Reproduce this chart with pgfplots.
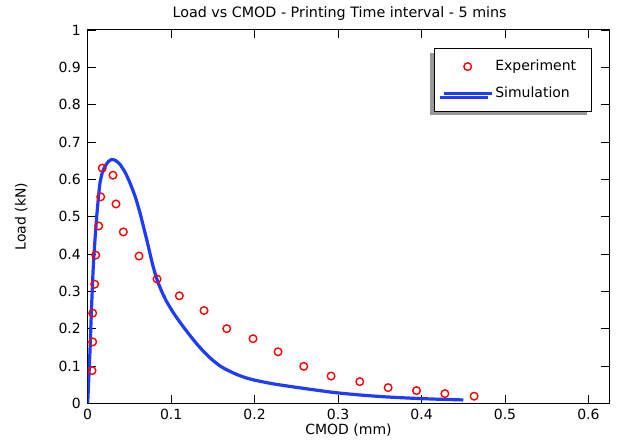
\documentclass[border=0pt]{standalone}
\usepackage{fontspec}
\setmainfont{DejaVu Sans}
\usepackage{pgfplots}
\pgfplotsset{compat=1.18}
\usetikzlibrary{shadows}
\definecolor{simblue}{RGB}{30,60,255}
\pgfplotsset{
  legmark/.style={legend image code/.code={\draw[mark repeat=2,mark phase=2,##1] plot coordinates {(0pt,0pt) (24pt,0pt) (48pt,0pt)};}},
  legline/.style={legend image code/.code={\draw[##1] (0pt,0pt) -- (48pt,0pt);}},
}
\newcommand\fs{\fontsize{14pt}{16pt}\selectfont}
\begin{document}
\fs
\begin{tikzpicture}
\path[use as bounding box] (0pt,0pt) rectangle (618pt,442pt);
\begin{axis}[
  at={(87.7pt,38.7pt)}, anchor=south west,
  width=521.6pt, height=373.3pt, scale only axis,
  xmin=0, xmax=0.625, ymin=0, ymax=1,
  xtick={0,0.1,0.2,0.3,0.4,0.5,0.6},
  ytick={0,0.1,0.2,0.3,0.4,0.5,0.6,0.7,0.8,0.9,1},
  yticklabels={0,0.1,0.2,0.3,0.4,0.5,0.6,0.7,0.8,0.9,1},
  xticklabels={0,0.1,0.2,0.3,0.4,0.5,0.6},
  tick align=inside, major tick length=8pt,
  tick style={black, line width=0.9pt},
  axis line style={black, line width=1pt},
  ticklabel style={font=\fs},
  xticklabel style={yshift=-1pt},
  yticklabel style={xshift=-2pt},
  title={Load vs CMOD - Printing Time interval - 5 mins},
  title style={at={(0.483,1)}, anchor=base, yshift=6pt, font=\fontsize{14.3pt}{16pt}\selectfont},
  xlabel={CMOD (mm)},
  xlabel style={at={(0.5,0)}, anchor=base, yshift=-31pt, font=\fs},
  ylabel={Load (kN)},
  every axis y label/.style={at={(0,0.5)}, rotate=90, anchor=base, yshift=62pt, font=\fs},
  legend style={at={(0.9663,0.951)}, anchor=north east, draw=black, line width=0.9pt, fill=white,
    drop shadow={shadow xshift=-4pt, shadow yshift=-4pt, fill=black!40, opacity=1},
    inner xsep=8pt, inner ysep=9.5pt, row sep=10pt,
    font=\fs},
  legend cell align=left,
  clip=true,
]
\addplot[only marks, mark=o, mark size=3.8pt, color=red, line width=1.4pt, legmark]
  coordinates {
(0.0052,0.0875) (0.0060,0.1645) (0.0060,0.2415) (0.0084,0.319) (0.0096,0.397)
(0.0132,0.475) (0.0156,0.553) (0.0175,0.630) (0.0303,0.611) (0.0339,0.534)
(0.0427,0.459) (0.0615,0.3945) (0.0831,0.333) (0.1098,0.288) (0.1394,0.2485)
(0.1666,0.200) (0.1981,0.173) (0.2281,0.138) (0.2589,0.099) (0.2916,0.073)
(0.3260,0.058) (0.3600,0.042) (0.3940,0.034) (0.4280,0.026) (0.4630,0.019)
};
\addlegendentry{\makebox[86pt][l]{Experiment}}
\addplot[simblue, line width=3.2pt, smooth, tension=0.4, legline]
  coordinates {
(0,0) (0.001,0.05) (0.0028,0.143) (0.0045,0.25) (0.0067,0.367) (0.0088,0.44)
(0.0108,0.50) (0.0128,0.55) (0.0147,0.59) (0.0175,0.618) (0.0207,0.635)
(0.025,0.648) (0.0288,0.653) (0.033,0.651) (0.0387,0.64) (0.045,0.618)
(0.0507,0.59) (0.057,0.553) (0.0627,0.51) (0.0665,0.476) (0.070,0.445)
(0.0727,0.42) (0.0755,0.393) (0.078,0.370) (0.0805,0.350) (0.083,0.332)
(0.086,0.314) (0.089,0.298) (0.092,0.284) (0.0947,0.272) (0.1025,0.243)
(0.1106,0.217) (0.120,0.189) (0.130,0.161) (0.140,0.136) (0.150,0.115)
(0.160,0.098) (0.170,0.086) (0.180,0.076) (0.190,0.068) (0.200,0.062)
(0.220,0.053) (0.240,0.046) (0.265,0.038) (0.295,0.029) (0.325,0.0225)
(0.355,0.0175) (0.385,0.014) (0.415,0.0113) (0.450,0.009)
};
\addlegendentry{\makebox[86pt][l]{Simulation}}
\end{axis}
\end{tikzpicture}
\end{document}
